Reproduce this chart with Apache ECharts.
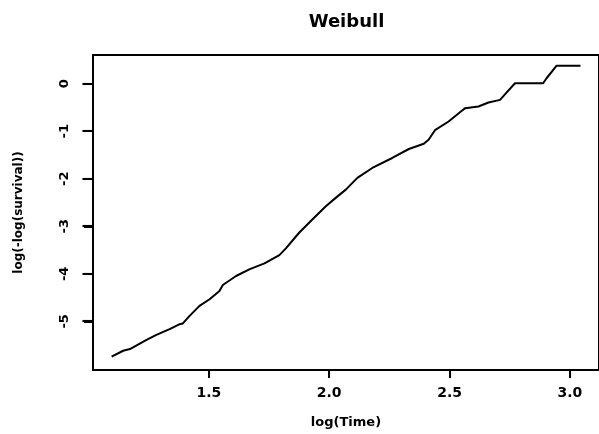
<!DOCTYPE html>
<html>
<head>
<meta charset="utf-8">
<script src="https://cdn.jsdelivr.net/npm/echarts@6/dist/echarts.min.js"></script>
<style>html,body{margin:0;padding:0;background:#fff}#c{width:599px;height:434px}</style>
</head>
<body>
<div id="c"></div>
<script>
const titleText = 'Weibull';
const xName = 'log(Time)';
const yName = 'log(-log(survival))';
const xTicks = [1.5, 2.0, 2.5, 3.0];
const yTicks = [0, -1, -2, -3, -4, -5];
const logTime = [1.096,1.144,1.172,1.241,1.282,1.337,1.379,1.392,1.420,1.461,1.503,1.544,1.558,1.613,1.668,1.731,1.793,1.820,1.875,1.930,1.986,2.027,2.069,2.117,2.179,2.262,2.331,2.393,2.413,2.441,2.496,2.551,2.565,2.620,2.662,2.710,2.731,2.772,2.889,2.903,2.945,3.044];
const logLogSurv = [-5.744,-5.618,-5.583,-5.388,-5.283,-5.164,-5.059,-5.044,-4.885,-4.675,-4.535,-4.361,-4.235,-4.046,-3.906,-3.780,-3.606,-3.465,-3.136,-2.857,-2.579,-2.403,-2.229,-1.983,-1.774,-1.564,-1.375,-1.264,-1.180,-0.971,-0.797,-0.572,-0.516,-0.482,-0.398,-0.342,-0.222,0.008,0.008,0.113,0.377,0.377];

const xMin = 1.0186, xMax = 3.121, yMin = -6.023, yMax = 0.602;
const font = 'DejaVu Sans';
const chart = echarts.init(document.getElementById('c'), null, {renderer: 'canvas'});

const titleGraphic = {
  type: 'text', x: 346.5, y: 22,
  style: {text: titleText, font: 'bold 18px "DejaVu Sans"', fill: '#000', align: 'center', verticalAlign: 'middle'}
};

chart.setOption({
  animation: false,
  backgroundColor: '#fff',
  graphic: [titleGraphic],
  grid: {left: 93, top: 55, right: -2, bottom: 63, show: true, borderColor: '#000', borderWidth: 2, backgroundColor: 'transparent'},
  xAxis: {
    type: 'value', min: xMin, max: xMax, position: 'bottom',
    name: xName, nameLocation: 'middle', nameGap: 46,
    nameTextStyle: {fontFamily: font, fontWeight: 'bold', fontSize: 13, color: '#000'},
    axisLine: {show: true, onZero: false, lineStyle: {color: '#000', width: 2}},
    splitLine: {show: false},
    axisTick: {show: true, length: 8, customValues: xTicks, lineStyle: {color: '#000', width: 2}},
    axisLabel: {customValues: xTicks, margin: 16, fontFamily: font, fontWeight: 'bold', fontSize: 14, color: '#000',
      formatter: v => v.toFixed(1)}
  },
  yAxis: {
    type: 'value', min: yMin, max: yMax, position: 'left',
    name: yName, nameLocation: 'middle', nameGap: 68,
    nameTextStyle: {fontFamily: font, fontWeight: 'bold', fontSize: 12, color: '#000'},
    axisLine: {show: true, onZero: false, lineStyle: {color: '#000', width: 2}},
    splitLine: {show: false},
    axisTick: {show: true, length: 9, customValues: yTicks, lineStyle: {color: '#000', width: 2}},
    axisLabel: {customValues: yTicks, rotate: 90, margin: 22, fontFamily: font, fontWeight: 'bold', fontSize: 13, color: '#000',
      formatter: v => String(Math.round(v))}
  },
  series: [
    {
      type: 'line',
      data: logTime.map((x, i) => [x, logLogSurv[i]]),
      showSymbol: false, symbol: 'none',
      lineStyle: {color: '#000', width: 2},
      clip: true
    }
  ]
});

// tick marks positioned through the chart's own scales (glyph-based marks plus rects)
const elems = [titleGraphic];
const blockFont = '7px "DejaVu Sans Mono"';
xTicks.forEach((v) => {
  const p = chart.convertToPixel({xAxisIndex: 0, yAxisIndex: 0}, [v, yMin]);
  elems.push({type: 'rect', z: 100,
    shape: {x: Math.round(p[0]) - 1, y: Math.round(p[1]), width: 2, height: 8},
    style: {fill: '#000'}});
  elems.push({type: 'text', z: 100, x: Math.round(p[0]), y: Math.round(p[1]) + 4.5, scaleX: 0.48,
    style: {text: '\u2588', font: blockFont, fill: '#000', align: 'center', verticalAlign: 'middle'}});
});
yTicks.forEach((v) => {
  const p = chart.convertToPixel({xAxisIndex: 0, yAxisIndex: 0}, [xMin, v]);
  elems.push({type: 'rect', z: 100,
    shape: {x: Math.round(p[0]) - 9, y: Math.round(p[1]) - 1, width: 9, height: 2},
    style: {fill: '#000'}});
  elems.push({type: 'text', z: 100, x: Math.round(p[0]) - 5, y: Math.round(p[1]), rotation: Math.PI / 2,
    scaleX: 0.48, scaleY: 1.15,
    style: {text: '\u2588', font: blockFont, fill: '#000', align: 'center', verticalAlign: 'middle'}});
});
chart.setOption({graphic: elems});
</script>
</body>
</html>
